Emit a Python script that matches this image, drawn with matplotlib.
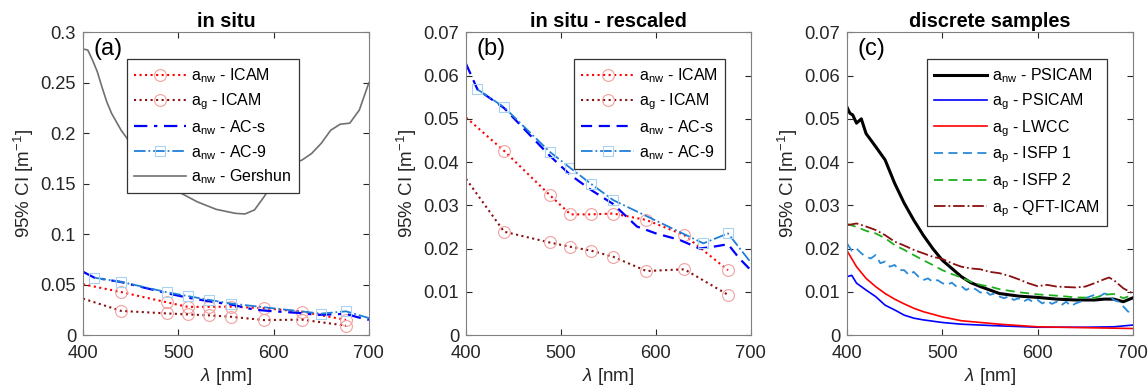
import matplotlib
matplotlib.use('Agg')
import matplotlib.pyplot as plt

plt.rcParams['font.family'] = ['Liberation Sans', 'DejaVu Sans']
plt.rcParams['mathtext.fontset'] = 'custom'
plt.rcParams['mathtext.rm'] = 'Liberation Sans'
plt.rcParams['mathtext.it'] = 'Liberation Sans:italic'

# ============================================
# 数据：in situ（a, b 共用）
# ============================================
icam_wl = [400, 440, 488, 510, 532, 555, 590, 630, 676]
anw_icam = [0.0503, 0.0426, 0.0324, 0.0279, 0.0279, 0.0281, 0.0266, 0.0231, 0.0150]
ag_icam = [0.0361, 0.0239, 0.0214, 0.0204, 0.0195, 0.0181, 0.0148, 0.0152, 0.0093]

acs_wl = [400, 412, 440, 488, 510, 532, 555, 580, 600, 625, 646, 660, 676, 688, 700]
anw_acs = [0.0627, 0.0568, 0.0525, 0.0415, 0.0370, 0.0335, 0.0303, 0.0251, 0.0235,
           0.0220, 0.0200, 0.0204, 0.0210, 0.0177, 0.0150]

ac9_wl = [412, 440, 488, 510, 532, 555, 650, 676, 715]
anw_ac9 = [0.0568, 0.0527, 0.0424, 0.0386, 0.0349, 0.0312, 0.0212, 0.0235, 0.0126]

gersh_wl = [400, 405, 410, 415, 420, 425, 430, 440, 450, 470, 490, 500, 520, 540, 560,
            570, 580, 590, 600, 610, 620, 630, 640, 650, 660, 670, 680, 690, 700]
anw_gersh = [0.2835, 0.2825, 0.2725, 0.261, 0.2455, 0.231, 0.2197, 0.203, 0.190, 0.167,
             0.150, 0.142, 0.132, 0.1245, 0.1206, 0.120, 0.124, 0.137, 0.152, 0.1635,
             0.170, 0.1735, 0.180, 0.190, 0.203, 0.209, 0.210, 0.223, 0.250]

# ============================================
# 数据：discrete samples（c）
# ============================================
psicam_wl = [400, 403, 406, 410, 415, 420, 430, 440, 450, 460, 470, 480, 490, 500, 510,
             520, 530, 540, 550, 560, 570, 580, 600, 620, 640, 660, 670, 680, 690, 700]
anw_psicam = [0.0527, 0.0513, 0.0509, 0.0490, 0.0500, 0.0466, 0.0436, 0.0405, 0.0351,
              0.0305, 0.0266, 0.0231, 0.0200, 0.0173, 0.0154, 0.0135, 0.0121, 0.0112,
              0.0104, 0.0096, 0.0093, 0.0090, 0.0087, 0.0083, 0.0081, 0.0081, 0.0083,
              0.0083, 0.0077, 0.0086]

agp_wl = [400, 405, 410, 415, 420, 430, 440, 450, 460, 470, 480, 500, 520, 550, 600, 650, 680, 700]
ag_psicam = [0.0135, 0.0138, 0.0120, 0.0112, 0.0104, 0.0089, 0.0069, 0.0058, 0.0046,
             0.0039, 0.0035, 0.0029, 0.0025, 0.0022, 0.0018, 0.0018, 0.0019, 0.0023]

lwcc_wl = [400, 410, 420, 430, 440, 450, 460, 470, 480, 500, 520, 540, 560, 600, 650, 700]
ag_lwcc = [0.0195, 0.0158, 0.0131, 0.0112, 0.0096, 0.0083, 0.0072, 0.0062, 0.0054,
           0.0042, 0.0033, 0.0029, 0.0025, 0.0019, 0.0017, 0.0015]

isfp1_wl = list(range(400, 701, 5))
ap_isfp1 = [0.0212, 0.0195, 0.0200, 0.0189, 0.0181, 0.0177, 0.0185, 0.0166, 0.0170,
            0.0158, 0.0162, 0.0150, 0.0150, 0.0139, 0.0146, 0.0135, 0.0127, 0.0131,
            0.0123, 0.0127, 0.0120, 0.0116, 0.0121, 0.0112, 0.0113, 0.0104, 0.0110,
            0.0106, 0.0098, 0.0102, 0.0093, 0.0096, 0.0089, 0.0085, 0.0090, 0.0081,
            0.0085, 0.0077, 0.0083, 0.0077, 0.0081, 0.0073, 0.0079, 0.0072, 0.0077,
            0.0069, 0.0077, 0.0067, 0.0073, 0.0077, 0.0085, 0.0089, 0.0093, 0.0089,
            0.0096, 0.0093, 0.0081, 0.0077, 0.0066, 0.0054, 0.0054]

isfp2_wl = [400, 410, 420, 430, 440, 450, 460, 470, 480, 490, 500, 510, 520, 530, 540,
            550, 560, 580, 600, 620, 640, 660, 670, 680, 690, 700]
ap_isfp2 = [0.0257, 0.0250, 0.0241, 0.0235, 0.0224, 0.0208, 0.0197, 0.0185, 0.0173,
            0.0162, 0.0150, 0.0141, 0.0133, 0.0123, 0.0116, 0.0112, 0.0106, 0.0099,
            0.0094, 0.0091, 0.0087, 0.0086, 0.0093, 0.0095, 0.0085, 0.0093]

qft_wl = [400, 410, 420, 430, 440, 450, 460, 470, 480, 490, 500, 510, 520, 530, 540,
          550, 560, 570, 580, 590, 600, 610, 620, 640, 650, 660, 670, 675, 680, 690, 700]
ap_qft = [0.0254, 0.0258, 0.0251, 0.0243, 0.0231, 0.0216, 0.0207, 0.0197, 0.0189,
          0.0181, 0.0176, 0.0166, 0.0158, 0.0154, 0.0152, 0.0146, 0.0143, 0.0137,
          0.0129, 0.0120, 0.0113, 0.0116, 0.0112, 0.0110, 0.0112, 0.0120, 0.0129,
          0.0133, 0.0127, 0.0108, 0.0096]

# 颜色
c_red = '#ff0000'
c_dred = '#8b1010'
c_pink = '#f2a0a0'
c_blue = '#0000ff'
c_ac9 = '#1f7fd8'
c_sq = '#a8d2f2'
c_gray = '#707070'
c_text = '#262626'


def style_axes(ax, ymax, ystep, yticklabels, title, tag):
    ax.set_xlim(400, 700)
    ax.set_ylim(0, ymax)
    ax.set_xticks([400, 500, 600, 700])
    ax.set_yticks([i * ystep for i in range(len(yticklabels))])
    ax.set_yticklabels(yticklabels)
    ax.tick_params(direction='in', top=True, right=True, labelsize=13.2,
                   colors=c_text, length=4)
    ax.tick_params(axis='x', pad=7)
    ax.tick_params(axis='y', pad=5)
    for s in ax.spines.values():
        s.set_color('#808080')
    ax.set_title(title, fontsize=14.3, fontweight='bold', pad=4)
    ax.set_xlabel(r'$\mathit{\lambda}$ [nm]', fontsize=13.5, color=c_text, labelpad=3)
    ax.set_ylabel(r'95% CI [m$^{-1}$]', fontsize=13.5, color=c_text, labelpad=3)
    ax.text(0.038, 0.98, tag, transform=ax.transAxes, fontsize=17, va='top', ha='left')


fig = plt.figure(figsize=(11.48, 3.9), dpi=100)
ax1 = fig.add_axes([0.0723, 0.141, 0.249, 0.776])
ax2 = fig.add_axes([0.406, 0.141, 0.248, 0.776])
ax3 = fig.add_axes([0.7378, 0.141, 0.249, 0.776])

mk_c = dict(marker='o', markersize=8.5, markerfacecolor='none', markeredgecolor=c_pink,
            markeredgewidth=0.8, markevery=list(range(1, len(icam_wl))))
mk_s = dict(marker='s', markersize=7, markerfacecolor='none', markeredgecolor=c_sq,
            markeredgewidth=0.8)

# 图 a / b：in situ
for ax, full in [(ax1, True), (ax2, False)]:
    ax.plot(icam_wl, anw_icam, ':', color=c_red, lw=1.5, label=r'a$_{\mathregular{nw}}$ - ICAM', **mk_c)
    ax.plot(icam_wl, ag_icam, ':', color=c_dred, lw=1.5, label=r'a$_{\mathregular{g}}$ - ICAM', **mk_c)
    ls_acs = (0, (6, 3, 1.5, 3)) if full else (0, (5, 3))
    ax.plot(acs_wl, anw_acs, linestyle=ls_acs, color=c_blue, lw=1.6,
            label=r'a$_{\mathregular{nw}}$ - AC-s')
    ax.plot(ac9_wl, anw_ac9, '-.', color=c_ac9, lw=1.3, label=r'a$_{\mathregular{nw}}$ - AC-9', **mk_s)
    if full:
        ax.plot(gersh_wl, anw_gersh, '-', color=c_gray, lw=1.2,
                label=r'a$_{\mathregular{nw}}$ - Gershun')

style_axes(ax1, 0.3, 0.05, ['0', '0.05', '0.1', '0.15', '0.2', '0.25', '0.3'], 'in situ', '(a)')
style_axes(ax2, 0.07, 0.01, ['0', '0.01', '0.02', '0.03', '0.04', '0.05', '0.06', '0.07'],
           'in situ - rescaled', '(b)')

# 图 c：discrete samples
ax3.plot(psicam_wl, anw_psicam, '-', color='black', lw=2.2, label=r'a$_{\mathregular{nw}}$ - PSICAM')
ax3.plot(agp_wl, ag_psicam, '-', color=c_blue, lw=1.2, label=r'a$_{\mathregular{g}}$ - PSICAM')
ax3.plot(lwcc_wl, ag_lwcc, '-', color=c_red, lw=1.2, label=r'a$_{\mathregular{g}}$ - LWCC')
ax3.plot(isfp1_wl, ap_isfp1, linestyle=(0, (5, 3)), color='#2a8ad8', lw=1.3,
         label=r'a$_{\mathregular{p}}$ - ISFP 1')
ax3.plot(isfp2_wl, ap_isfp2, linestyle=(0, (5, 3)), color='#1fae1f', lw=1.3,
         label=r'a$_{\mathregular{p}}$ - ISFP 2')
ax3.plot(qft_wl, ap_qft, '-.', color=c_dred, lw=1.3, label=r'a$_{\mathregular{p}}$ - QFT-ICAM')
style_axes(ax3, 0.07, 0.01, ['0', '0.01', '0.02', '0.03', '0.04', '0.05', '0.06', '0.07'],
           'discrete samples', '(c)')

# 图例
leg_kw = dict(fontsize=11.5, handlelength=3.3, labelspacing=0.38, borderpad=0.45,
              handletextpad=0.3, fancybox=False, framealpha=1, edgecolor='#333333')
ax1.legend(loc='upper right', bbox_to_anchor=(0.783, 0.937), **leg_kw)
ax2.legend(loc='upper right', bbox_to_anchor=(0.937, 0.937), **leg_kw)
ax3.legend(loc='upper right', bbox_to_anchor=(0.937, 0.937), **leg_kw)
for ax in (ax1, ax2, ax3):
    ax.get_legend().get_frame().set_linewidth(0.9)

plt.savefig('out.png', dpi=100)
